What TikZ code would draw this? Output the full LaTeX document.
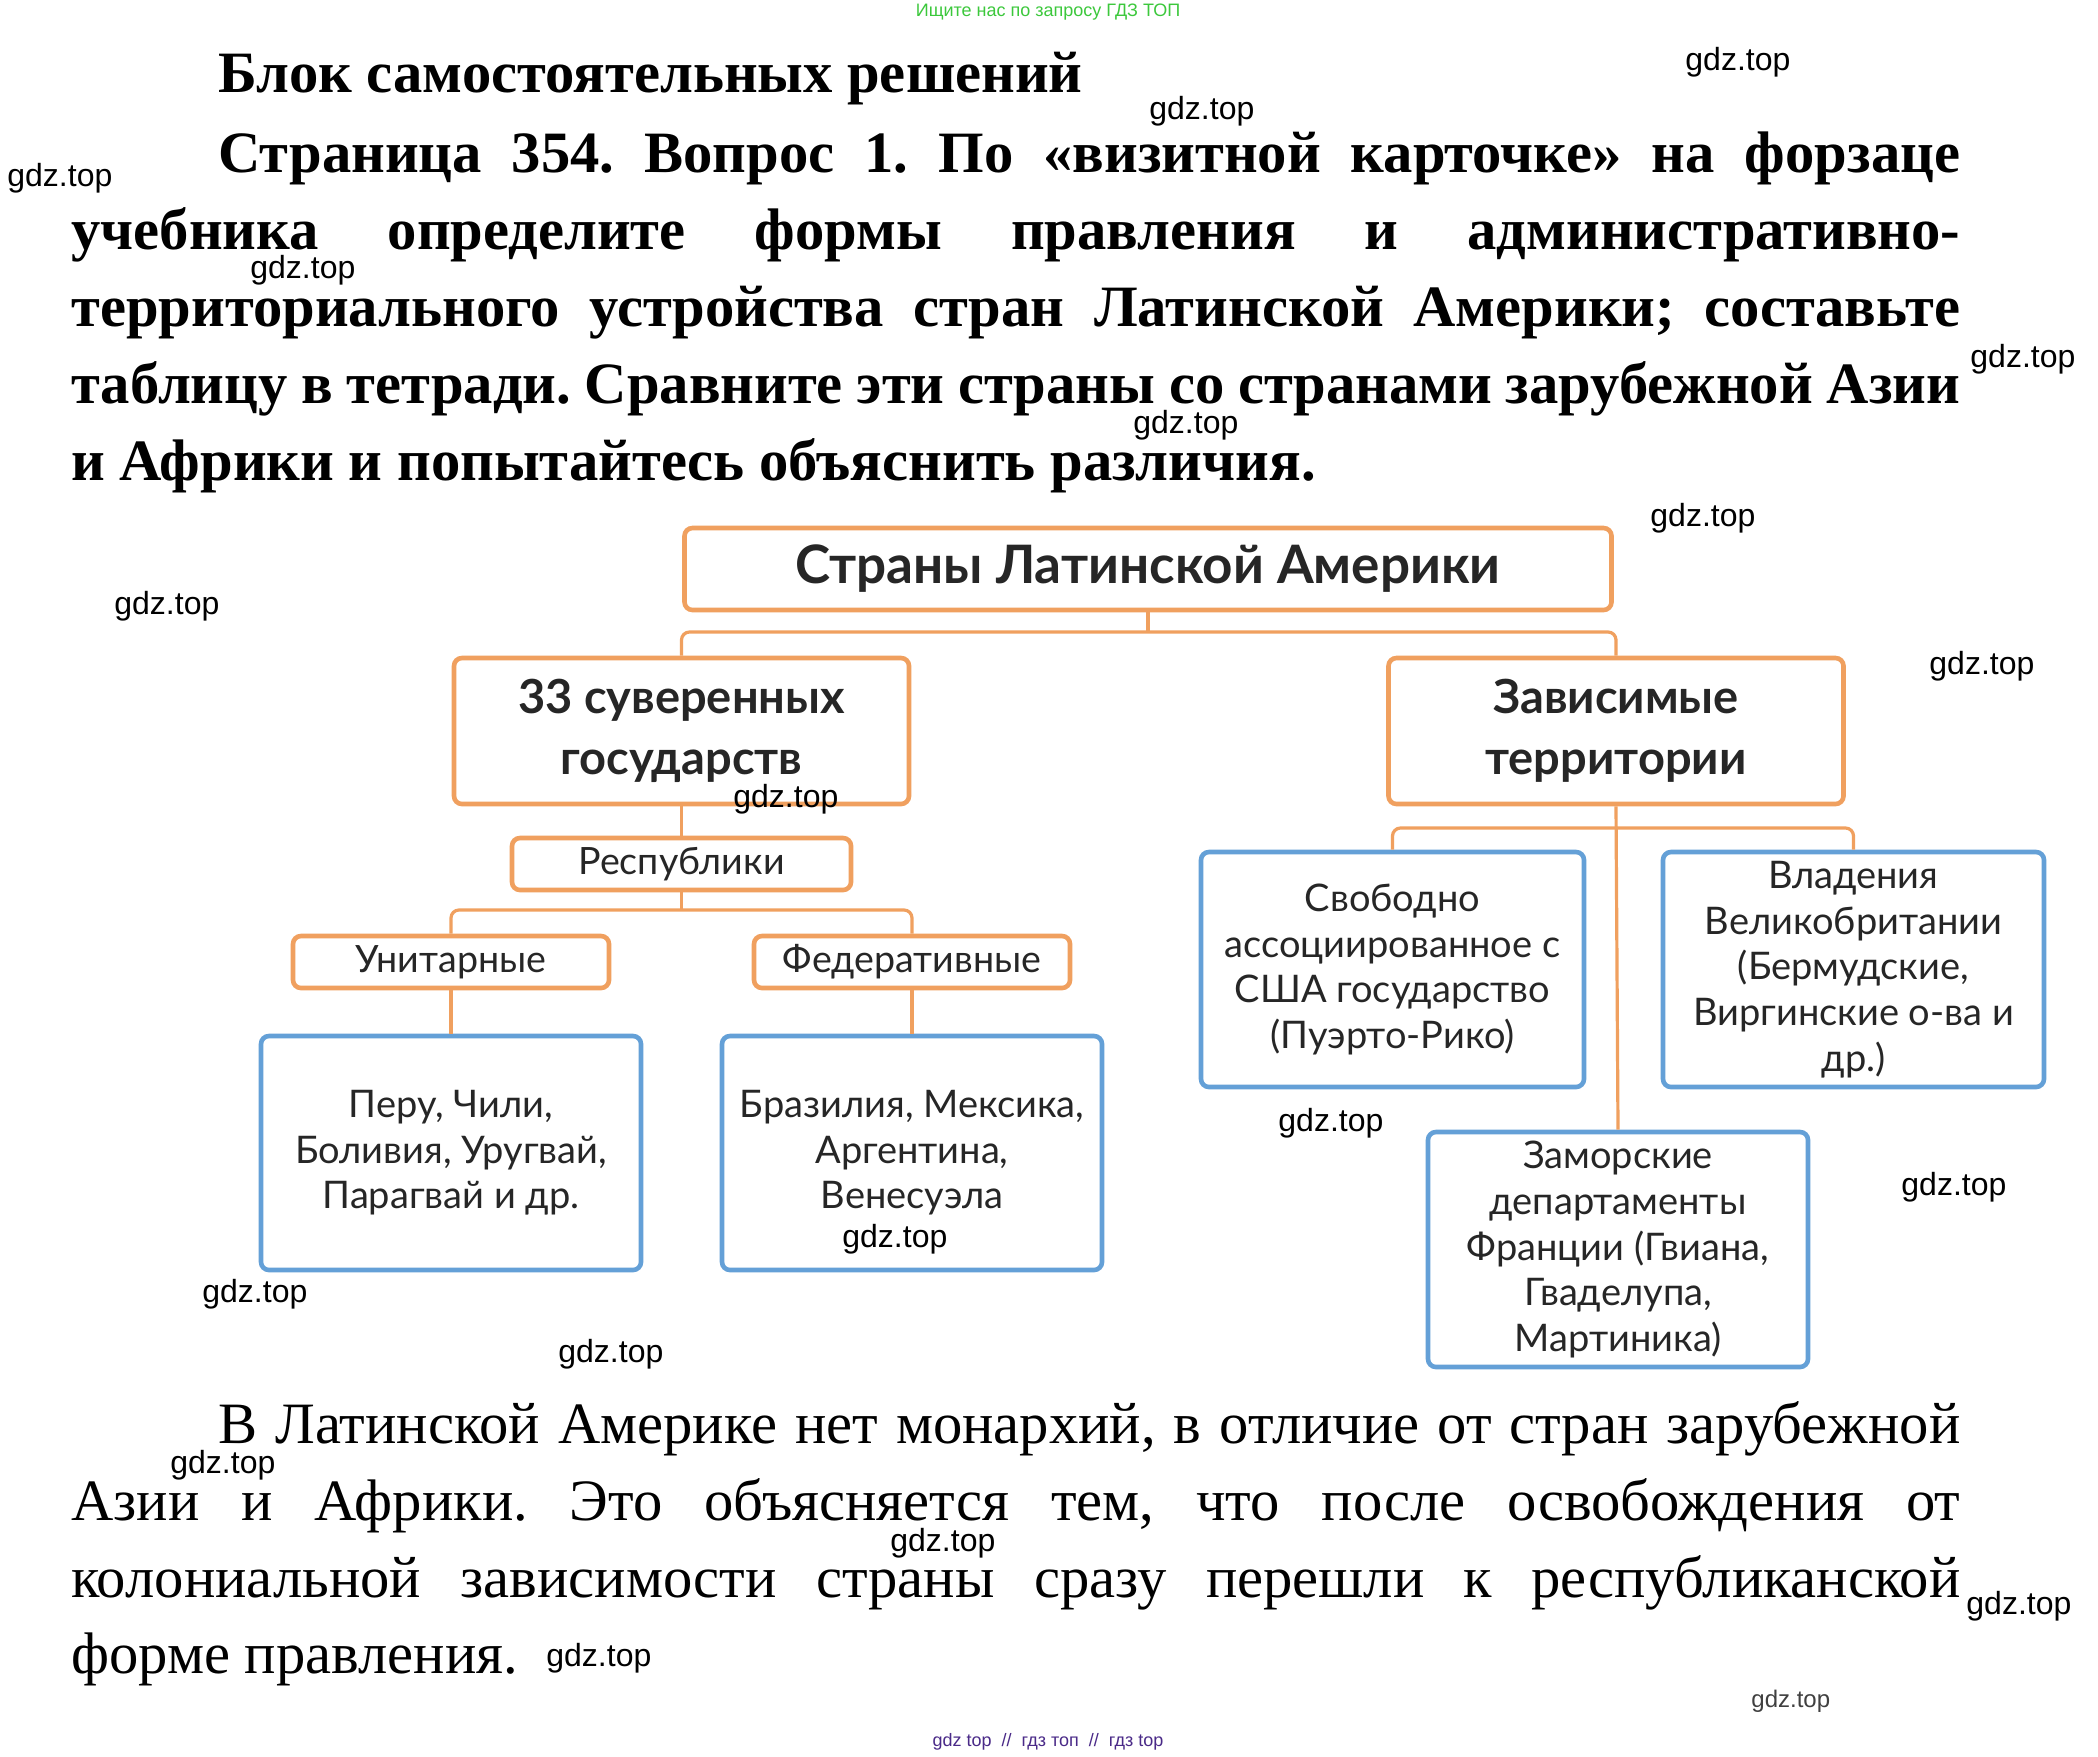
\documentclass[tikz,border=0pt]{standalone}
\usepackage{fontspec}
\setmainfont{Liberation Serif}
\newfontfamily\diag{Lato}
\newfontfamily\wm{Liberation Sans}
\frenchspacing

\definecolor{obr}{HTML}{F0A05F}
\definecolor{bbl}{HTML}{64A0D7}
\definecolor{dtx}{HTML}{262626}
\definecolor{grn}{HTML}{3CC83C}
\definecolor{prp}{HTML}{4A2A88}

\begin{document}
\begin{tikzpicture}[x=0.5pt,y=-0.5pt,
 obox/.style={draw=obr,line width=2.3pt,rounded corners=4pt,fill=white,align=center,text=dtx,inner sep=0pt},
 bbox/.style={draw=bbl,line width=2.3pt,rounded corners=4pt,fill=white,align=center,text=dtx,inner sep=0pt,minimum width=190pt,minimum height=117pt,font=\diag\fontsize{19}{22.8}\selectfont},
 conn/.style={draw=obr,line width=1.6pt,rounded corners=4pt},
 bodyb/.style={anchor=base west,inner sep=0pt,font=\bfseries\fontsize{29.3}{32}\selectfont\frenchspacing},
 bodyr/.style={anchor=base west,inner sep=0pt,font=\fontsize{29.3}{32}\selectfont\frenchspacing},
 wmk/.style={anchor=west,inner sep=0pt,font=\wm\fontsize{16}{18}\selectfont}
]
\useasboundingbox[fill=white] (0,0) rectangle (2098,1756);

% header / footer
\node[inner sep=0pt,text=grn,font=\wm\fontsize{9}{10}\selectfont] (hdr) at (1048,12) {Ищите нас по запросу ГДЗ ТОП};
\node[inner sep=0pt,text=prp,font=\wm\fontsize{9}{10}\selectfont] (ftr) at (1048,1742) {gdz top\ \ //\ \ гдз топ\ \ //\ \ гдз top};

% question text
\node[bodyb] (t1) at (218,92) {Блок самостоятельных решений};
\node[bodyb] (t2) at (218,172) {\makebox[871pt][s]{Страница 354. Вопрос 1. По «визитной карточке» на форзаце}};
\node[bodyb] (t3) at (71,249) {\makebox[944.5pt][s]{учебника определите формы правления и административно-}};
\node[bodyb] (t4) at (71,326) {\makebox[944.5pt][s]{территориального устройства стран Латинской Америки; составьте}};
\node[bodyb] (t5) at (71,403) {\makebox[944.5pt][s]{таблицу в тетради. Сравните эти страны со странами зарубежной Азии}};
\node[bodyb] (t6) at (71,480) {и Африки и попытайтесь объяснить различия.};

% answer text
\node[bodyr] (b1) at (218,1443) {\makebox[871pt][s]{В Латинской Америке нет монархий, в отличие от стран зарубежной}};
\node[bodyr] (b2) at (71,1520) {\makebox[944.5pt][s]{Азии и Африки. Это объясняется тем, что после освобождения от}};
\node[bodyr] (b3) at (71,1597) {\makebox[944.5pt][s]{колониальной зависимости страны сразу перешли к республиканской}};
\node[bodyr] (b4) at (71,1673) {форме правления.};

% diagram boxes
\node[obox,minimum width=463.5pt,minimum height=41pt,font=\diag\bfseries\fontsize{26.5}{30}\selectfont] (top) at (1148,569) {Страны Латинской Америки};
\node[obox,minimum width=227.5pt,minimum height=73pt,font=\diag\bfseries\fontsize{23.5}{30.5}\selectfont] (sov) at (681.5,731) {33 суверенных\\государств};
\node[obox,minimum width=227.5pt,minimum height=73pt,font=\diag\bfseries\fontsize{23.5}{30.5}\selectfont] (dep) at (1616,731) {Зависимые\\территории};
\node[obox,minimum width=169.5pt,minimum height=26pt,font=\diag\fontsize{18.8}{22}\selectfont] (resp) at (681.5,864) {Республики};
\node[obox,minimum width=158pt,minimum height=26pt,font=\diag\fontsize{18.8}{22}\selectfont] (unit) at (451,962) {Унитарные};
\node[obox,minimum width=158pt,minimum height=26pt,font=\diag\fontsize{18.8}{22}\selectfont] (fed) at (912,962) {Федеративные};
\node[bbox] (ex1) at (451,1153) {Перу, Чили,\\Боливия, Уругвай,\\Парагвай и др.};
\node[bbox] (ex2) at (912,1153) {Бразилия, Мексика,\\Аргентина,\\Венесуэла};
\node[bbox,minimum width=191.5pt,minimum height=117.5pt] (free) at (1392.5,969.5) {Свободно\\ассоциированное с\\США государство\\(Пуэрто-Рико)};
\node[bbox,minimum width=190.5pt,minimum height=117.5pt] (brit) at (1853.5,969.5) {Владения\\Великобритании\\(Бермудские,\\Виргинские о-ва и\\др.)};
\node[bbox,minimum width=190pt,minimum height=117.5pt] (over) at (1618,1249.5) {Заморские\\департаменты\\Франции (Гвиана,\\Гваделупа,\\Мартиника)};

% connectors
\coordinate (j1) at (1148,632);
\coordinate (j2) at (681.5,910);
\coordinate (j3) at (1618,828);
\draw[conn] (top.south) -- (j1);
\draw[conn] (sov.north) |- (j1) -| (dep.north);
\draw[conn] (sov.south) -- (resp.north);
\draw[conn] (resp.south) -- (j2);
\draw[conn] (unit.north) |- (j2) -| (fed.north);
\draw[conn] (unit.south) -- (ex1.north);
\draw[conn] (fed.south) -- (ex2.north);
\draw[conn] (dep.south) -- (over.north);
\draw[conn] (free.north) |- (j3) -| (brit.north);

% watermarks
\node[wmk] (w1) at (1685,62) {gdz.top};
\node[wmk] (w2) at (1149,111) {gdz.top};
\node[wmk] (w3) at (7,178) {gdz.top};
\node[wmk] (w4) at (250,270) {gdz.top};
\node[wmk] (w5) at (1970,359) {gdz.top};
\node[wmk] (w6) at (1133,425) {gdz.top};
\node[wmk] (w7) at (1650,518) {gdz.top};
\node[wmk] (w8) at (114,606) {gdz.top};
\node[wmk] (w9) at (1929,666) {gdz.top};
\node[wmk] (w10) at (733,799) {gdz.top};
\node[wmk] (w11) at (1278,1123) {gdz.top};
\node[wmk] (w12) at (842,1239) {gdz.top};
\node[wmk] (w13) at (1901,1187) {gdz.top};
\node[wmk] (w14) at (202,1294) {gdz.top};
\node[wmk] (w15) at (558,1354) {gdz.top};
\node[wmk] (w16) at (170,1465) {gdz.top};
\node[wmk] (w17) at (890,1543) {gdz.top};
\node[wmk] (w18) at (1966,1606) {gdz.top};
\node[wmk] (w19) at (546,1658) {gdz.top};
\node[wmk,text=black!75,font=\wm\fontsize{12}{14}\selectfont] (w20) at (1751,1701) {gdz.top};
\end{tikzpicture}
\end{document}
